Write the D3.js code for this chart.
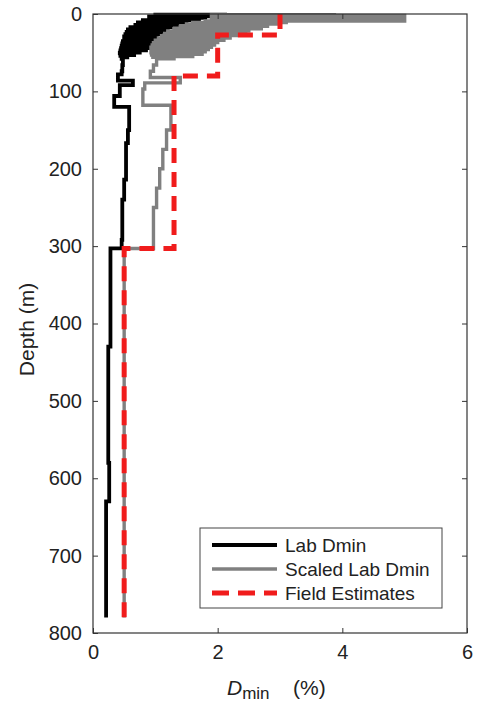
<!DOCTYPE html>
<html>
<head>
<meta charset="utf-8">
<script src="https://cdn.jsdelivr.net/npm/d3@7"></script>
<style>
  body { margin: 0; background: #fff; }
  svg { display: block; font-family: "Liberation Sans", Arial, sans-serif; }
</style>
</head>
<body>
<figure style="margin:0"></figure>
<script>
// depth (m) where each step starts, and the Dmin value (%) held below it
const labDepth = [0, 1, 2, 3, 4, 5, 6, 8, 9, 11, 12, 14, 15, 17, 18, 20, 21, 23, 24, 26, 27, 29, 30, 32, 33, 35, 36, 38, 39, 41, 42, 44, 45, 47, 48, 50, 51, 53, 54, 56, 58, 66, 74, 78, 86, 92, 106, 120, 150, 167, 214, 240, 292, 303, 430, 580, 630, 780];
const labValue = [2.15, 1.0, 1.85, 0.9, 1.8, 0.95, 1.7, 0.8, 1.5, 0.72, 1.35, 0.68, 1.25, 0.6, 1.2, 0.56, 1.15, 0.54, 1.08, 0.52, 1.02, 0.5, 1.0, 0.5, 0.98, 0.48, 0.95, 0.47, 0.92, 0.46, 0.9, 0.45, 0.85, 0.44, 0.75, 0.43, 0.66, 0.44, 0.55, 0.46, 0.48, 0.47, 0.46, 0.40, 0.64, 0.43, 0.34, 0.58, 0.56, 0.53, 0.50, 0.47, 0.46, 0.28, 0.245, 0.26, 0.21, 0.21];

const scaledDepth = [0, 1, 2, 3, 4, 5, 6, 7, 8, 9, 10, 11, 12, 13, 14, 16, 17, 19, 20, 22, 23, 25, 26, 28, 29, 31, 32, 34, 35, 37, 38, 40, 41, 43, 44, 46, 47, 49, 50, 52, 53, 55, 56, 58, 66, 74, 82, 89, 97, 118, 150, 175, 200, 225, 250, 303, 780];
const scaledValue = [3.9, 1.9, 5.0, 1.9, 5.0, 1.9, 5.0, 1.9, 5.0, 1.8, 3.1, 1.6, 3.0, 1.5, 2.8, 1.4, 2.7, 1.3, 2.5, 1.2, 2.45, 1.15, 2.3, 1.1, 2.2, 1.05, 2.1, 1.0, 2.0, 0.97, 1.95, 0.95, 1.9, 0.93, 1.85, 0.93, 1.8, 0.93, 1.75, 0.94, 1.6, 0.96, 1.3, 1.02, 0.97, 0.92, 1.4, 0.83, 0.8, 1.25, 1.18, 1.12, 1.07, 1.02, 0.97, 0.5, 0.5];

const fieldDepth = [0, 27, 80, 303, 780];
const fieldValue = [3.0, 2.0, 1.3, 0.5, 0.5];

const xTicks = [0, 2, 4, 6];
const yTicks = [0, 100, 200, 300, 400, 500, 600, 700, 800];
const legendLabels = ['Lab Dmin', 'Scaled Lab Dmin', 'Field Estimates'];

(() => {
  const totalWidth = 477;
  const totalHeight = 702;
  const margin = {top: 14, right: 10, bottom: 69, left: 93};
  const graphWidth = totalWidth - margin.left - margin.right;
  const graphHeight = totalHeight - margin.top - margin.bottom;
  const axisColor = '#333';

  const svg = d3.select('figure').append('svg')
    .attr('width', totalWidth)
    .attr('height', totalHeight);

  const g = svg.append('g').attr('transform', 'translate(' + margin.left + ',' + margin.top + ')');

  const x = d3.scaleLinear().domain([0, 6]).range([0, graphWidth]);
  const y = d3.scaleLinear().domain([0, 800]).range([0, graphHeight]);

  const series = [
    {name: legendLabels[0], depth: labDepth, value: labValue, color: '#000', width: 3.8, dash: null},
    {name: legendLabels[1], depth: scaledDepth, value: scaledValue, color: '#808080', width: 3.4, dash: null},
    {name: legendLabels[2], depth: fieldDepth, value: fieldValue, color: '#f01c1c', width: 5, dash: '15,9'}
  ];

  // vertical first, then horizontal jump at the next depth
  const line = d3.line()
    .x((d) => x(d[1]))
    .y((d) => y(d[0]))
    .curve(d3.curveStepBefore);

  series.forEach((s) => {
    g.append('path')
      .datum(d3.zip(s.depth, s.value))
      .attr('fill', 'none')
      .attr('stroke', s.color)
      .attr('stroke-width', s.width)
      .attr('stroke-dasharray', s.dash)
      .attr('stroke-linejoin', 'miter')
      .attr('d', line);
  });

  // axes with inward ticks (box on all four sides)
  const styleAxis = (sel, labels) => {
    sel.select('.domain').remove();
    sel.selectAll('.tick line').attr('stroke', axisColor);
    sel.selectAll('.tick text')
      .attr('fill', labels ? '#222' : 'none')
      .style('font-size', '20px')
      .style('font-family', '"Liberation Sans", Arial, sans-serif');
  };

  g.append('g')
    .call(d3.axisLeft(y).tickValues(yTicks).tickSize(-5).tickPadding(11).tickFormat(d3.format('d')))
    .call(styleAxis, true);

  g.append('g')
    .attr('transform', 'translate(' + graphWidth + ',0)')
    .call(d3.axisRight(y).tickValues(yTicks.slice(1, -1)).tickSize(-5).tickFormat(''))
    .call(styleAxis, false);

  g.append('g')
    .attr('transform', 'translate(0,' + graphHeight + ')')
    .call(d3.axisBottom(x).tickValues(xTicks).tickSize(-5).tickPadding(12).tickFormat(d3.format('d')))
    .call(styleAxis, true);

  g.append('g')
    .call(d3.axisTop(x).tickValues(xTicks.slice(1, -1)).tickSize(-5).tickFormat(''))
    .call(styleAxis, false);

  g.append('rect')
    .attr('width', graphWidth)
    .attr('height', graphHeight)
    .attr('fill', 'none')
    .attr('stroke', axisColor)
    .attr('stroke-width', 1.2);

  // axis titles
  svg.append('text')
    .attr('transform', 'translate(34,' + (margin.top + y(400) + 6) + ') rotate(-90)')
    .attr('text-anchor', 'middle')
    .attr('fill', '#222')
    .style('font-size', '21px')
    .text('Depth (m)');

  const xt = svg.append('text')
    .attr('x', 227)
    .attr('y', 695)
    .attr('fill', '#222')
    .style('font-size', '21px');
  xt.append('tspan').style('font-style', 'italic').text('D');
  xt.append('tspan').attr('dy', 4).style('font-size', '17px').text('min');
  xt.append('tspan').attr('x', 293).attr('dy', -4).text('(%)');

  // legend
  const legend = svg.append('g').attr('transform', 'translate(200,528)');
  legend.append('rect')
    .attr('width', 242)
    .attr('height', 80)
    .attr('fill', '#fff')
    .attr('stroke', '#444')
    .attr('stroke-width', 1);

  series.forEach((s, i) => {
    const ly = 17 + i * 24;
    legend.append('line')
      .attr('x1', 12).attr('x2', 77)
      .attr('y1', ly).attr('y2', ly)
      .attr('stroke', s.color)
      .attr('stroke-width', s.width)
      .attr('stroke-dasharray', s.dash ? '17,9' : null);
    legend.append('text')
      .attr('x', 85)
      .attr('y', ly + 7)
      .attr('fill', '#222')
      .style('font-size', '19px')
      .text(s.name);
  });
})();
</script>
</body>
</html>
